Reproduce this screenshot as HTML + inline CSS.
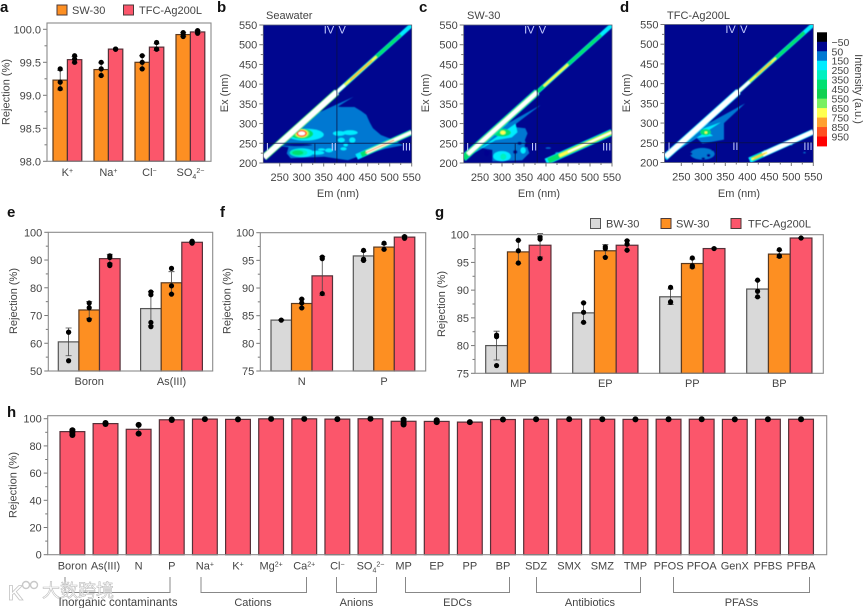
<!DOCTYPE html>
<html lang="en">
<head>
<meta charset="utf-8">
<title>Rejection performance and fluorescence spectra</title>
<style>
html,body{margin:0;padding:0;background:#fff;width:865px;height:608px;overflow:hidden}
svg{display:block;filter:blur(0.35px)}
text{font-family:"Liberation Sans","Noto Sans CJK SC",sans-serif;fill:#444;font-size:11px}
.pl{font-weight:bold;font-size:15px;fill:#111}
.hl{fill:#c4ccff;font-size:11px}
</style>
</head>
<body>
<svg id="figure" xmlns="http://www.w3.org/2000/svg" width="865" height="608" viewBox="0 0 865 608">
  <defs>
    <filter id="soft" x="-5%" y="-5%" width="110%" height="110%"><feGaussianBlur stdDeviation="0.55"/></filter>
  </defs>
  <rect width="865" height="608" fill="#fff"/>
  <text class="pl" x="0" y="12">a</text>
  <text class="pl" x="217" y="12">b</text>
  <text class="pl" x="419" y="12">c</text>
  <text class="pl" x="620" y="12">d</text>
  <text class="pl" x="7" y="217">e</text>
  <text class="pl" x="220" y="217">f</text>
  <text class="pl" x="435" y="217">g</text>
  <text class="pl" x="7" y="417">h</text>

  <g>
    <rect x="57" y="5" width="10" height="10" fill="#fd8f22" stroke="#4a3a3a" stroke-width="1"/>
    <text x="72" y="14">SW-30</text>
    <rect x="123.5" y="5" width="10" height="10" fill="#fb566b" stroke="#4a3a3a" stroke-width="1"/>
    <text x="139" y="14">TFC-Ag200L</text>
  </g>
  <g>
    <rect x="590.5" y="218.5" width="10" height="10" fill="#d9d9d9" stroke="#555" stroke-width="1"/>
    <text x="606" y="227.5">BW-30</text>
    <rect x="661" y="218.5" width="10" height="10" fill="#fd8f22" stroke="#4a3a3a" stroke-width="1"/>
    <text x="676" y="227.5">SW-30</text>
    <rect x="731" y="218.5" width="10" height="10" fill="#fb566b" stroke="#4a3a3a" stroke-width="1"/>
    <text x="748" y="227.5">TFC-Ag200L</text>
  </g>

  <text text-anchor="middle" transform="translate(9.5 92) rotate(-90)">Rejection (%)</text>
  <text text-anchor="middle" transform="translate(17 301) rotate(-90)">Rejection (%)</text>
  <text text-anchor="middle" transform="translate(230.5 301) rotate(-90)">Rejection (%)</text>
  <text text-anchor="middle" transform="translate(445 304) rotate(-90)">Rejection (%)</text>
  <text text-anchor="middle" transform="translate(16.5 485) rotate(-90)">Rejection (%)</text>

  <text x="266" y="19">Seawater</text>
  <text x="467" y="19">SW-30</text>
  <text x="667" y="19">TFC-Ag200L</text>
  <text x="338" y="197" text-anchor="middle">Em (nm)</text>
  <text x="539" y="197" text-anchor="middle">Em (nm)</text>
  <text x="739" y="197" text-anchor="middle">Em (nm)</text>
  <text text-anchor="middle" transform="translate(228 93) rotate(-90)">Ex (nm)</text>
  <text text-anchor="middle" transform="translate(429 93) rotate(-90)">Ex (nm)</text>
  <text text-anchor="middle" transform="translate(630 93) rotate(-90)">Ex (nm)</text>
  <text text-anchor="middle" transform="translate(855 89) rotate(90)">Intensity (a.u.)</text>

  <g id="dynamic"></g>

  <g fill="none" stroke="#888" stroke-width="1">
    <path d="M65 577V592.5H170V577"/>
    <path d="M201 577V592.5H306.5V577"/>
    <path d="M336.5 577V592.5H376.5V577"/>
    <path d="M405.5 577V592.5H509.5V577"/>
    <path d="M536.5 577V592.5H640.5V577"/>
    <path d="M673.5 577V592.5H809.5V577"/>
  </g>
  <g text-anchor="middle">
    <text x="118" y="606" style="font-size:11.5px">Inorganic contaminants</text>
    <text x="253" y="606">Cations</text>
    <text x="356.5" y="606">Anions</text>
    <text x="457.5" y="606">EDCs</text>
    <text x="590" y="606">Antibiotics</text>
    <text x="741.5" y="606">PFASs</text>
  </g>

  <g>
    <text x="8" y="600" style="font-size:21px;font-weight:bold;fill:#fff;stroke:#c4c4c4;stroke-width:.8">K</text>
    <circle cx="26" cy="585" r="3.5" fill="none" stroke="#c8c8c8" stroke-width="1.4"/>
    <circle cx="34" cy="585" r="3.5" fill="none" stroke="#c8c8c8" stroke-width="1.4"/>
    <text x="42" y="597" style="font-size:18px;fill:rgba(255,255,255,.72);stroke:#bdbdbd;stroke-width:.6">大数跨境</text>
  </g>
</svg>
<script>
/* ---------- bar chart data ---------- */
const aCategories = ['K<tspan dy="-3" font-size="7">+</tspan>','Na<tspan dy="-3" font-size="7">+</tspan>','Cl<tspan dy="-3" font-size="7">−</tspan>','SO<tspan dy="3" font-size="7">4</tspan><tspan dy="-6" font-size="7">2−</tspan>'];
const aTicks = [98,98.5,99,99.5,100];
const aTickLabels = ['98.0','98.5','99.0','99.5','100.0'];
const aSW = [99.23,99.39,99.5,99.92];
const aTFC = [99.54,99.7,99.73,99.96];
const aErrSW = [0.15,0.1,0.1,0.03];
const aErrTFC = [0.05,0,0.05,0.02];
const aPtsSW = [[99.4,99.2,99.1],[99.5,99.4,99.3],[99.6,99.5,99.4],[99.95,99.92,99.89]];
const aPtsTFC = [[99.6,99.55,99.5],[99.7,99.7,99.7],[99.8,99.7,99.7],[99.98,99.96,99.94]];

const eCategories = ['Boron','As(III)'];
const eTicks = [50,60,70,80,90,100];
const eBW = [60.5,72.5];
const eSW = [72,81.8];
const eTFC = [90.5,96.4];
const eErrBW = [5,6.2];
const eErrSW = [3,4];
const eErrTFC = [1.6,0.3];
const ePtsBW = [[64,64,53.7],[78.5,77.5,67.5,66]];
const ePtsSW = [[74.5,72.8,68.5],[87,80.7,77.7]];
const ePtsTFC = [[91.5,90.9,88.5,88],[96.8,96.3,96.1]];

const fCategories = ['N','P'];
const fTicks = [75,80,85,90,95,100];
const fBW = [84.2,95.8];
const fSW = [87.2,97.4];
const fTFC = [92.2,99.2];
const fErrBW = [0.1,0.8];
const fErrSW = [0.8,0.5];
const fErrTFC = [3.5,0.2];
const fPtsBW = [[84.2],[96.8,95.2,95]];
const fPtsSW = [[88,87.3,86.4],[98.1,97]];
const fPtsTFC = [[95.6,95.3,89],[99.3,99]];

const gCategories = ['MP','EP','PP','BP'];
const gTicks = [75,80,85,90,95,100];
const gBW = [80,85.9,88.8,90.2];
const gSW = [96.9,97.1,94.8,96.5];
const gTFC = [98.1,98.1,97.5,99.4];
const gErrBW = [2.6,1.8,1.4,1.5];
const gErrSW = [2.1,1.1,0.8,0.6];
const gErrTFC = [2.1,0.9,0.1,0.1];
const gPtsBW = [[81.9,81.6,76.4],[87.7,86,84.2],[90.5,87.9,87.8],[91.8,89.8,88.8]];
const gPtsSW = [[99,97.1,94.9],[97.8,97.5,95.9],[95.8,94.4,94.2],[97.3,96.2,96.1]];
const gPtsTFC = [[99.6,99.2,95.7],[98.9,98.3,97.2],[97.5],[99.4]];

const hCategories = ['Boron','As(III)','N','P','Na<tspan dy="-3" font-size="7">+</tspan>','K<tspan dy="-3" font-size="7">+</tspan>','Mg<tspan dy="-3" font-size="7">2+</tspan>','Ca<tspan dy="-3" font-size="7">2+</tspan>','Cl<tspan dy="-3" font-size="7">−</tspan>','SO<tspan dy="3" font-size="7">4</tspan><tspan dy="-6" font-size="7">2−</tspan>','MP','EP','PP','BP','SDZ','SMX','SMZ','TMP','PFOS','PFOA','GenX','PFBS','PFBA'];
const hTicks = [0,20,40,60,80,100];
const hTFC = [90.5,96.4,92.2,99.2,99.7,99.5,99.9,99.9,99.7,99.95,98.1,98,97.5,99.4,99.6,99.7,99.6,99.5,99.6,99.6,99.5,99.6,99.6];
const hErr = [1.7,0.3,3.4,0.2,0,0,0,0,0,0,2,1,0,0,0,0,0,0,0,0,0,0,0];
const hPts = [[91.5,90,88],[96.8,96.1],[95.5,89],[99.4,99],[99.7],[99.5],[99.9],[99.9],[99.7],[99.95],[99.3,97,95.7],[98.9,97.5],[97.5],[99.4],[99.6],[99.7],[99.6],[99.5],[99.6],[99.6],[99.5],[99.6],[99.6]];

/* ---------- fluorescence spectra data ---------- */
const emTicks = [250,300,350,400,450,500,550];
const exTicks = [200,250,300,350,400,450,500,550];
const colorbarLabels = ['−50','50','150','250','350','450','550','650','750','850','950'];
const levelColors = ['#000000','#00068f','#0078d2','#00ecff','#00f0c0','#00e070','#10d050','#78f060','#ffff50','#ffa030','#ff5020','#ff0000','#ffffff'];

/* [level, emStart, emEnd, widthNm] along Ex = Em */
const diagB = [[5,214,380,17],[12,214,380,13],[3,380,550,10],[5,380,525,8],[12,380,398,7],[8,398,470,5],[9,410,460,2.5]];
const diagC = [[3,212,380,17],[5,212,380,15],[12,222,380,10],[3,380,550,10],[5,380,525,8],[8,395,450,5]];
const diagD = [[3,212,380,16],[12,215,380,12],[3,380,550,10],[5,380,530,8],[12,380,405,7],[8,405,465,4.5],[9,420,455,2]];
/* [level, emStart, emEnd, widthNm] along Ex = Em / 2 + 3 */
const secondB = [[3,425,550,14],[5,435,550,12],[12,447,550,8],[9,445,510,2.5]];
const secondC = [[3,400,550,16],[5,405,550,13],[8,430,550,8],[12,450,550,4]];
const secondD = [[3,405,550,14],[5,410,450,10],[12,435,550,10],[8,410,445,5],[9,415,440,2]];

/* [level, [[em, ex], ...]] */
const polyB = [
  [2,[[418,368],[382,343],[390,342],[420,342],[435,332],[447,322],[455,302],[462,288],[480,271],[510,258],[530,245],[490,236],[427,216],[405,207],[351,216],[275,212],[266,224],[270,240],[250,243],[230,222],[282,288],[335,326]]]
];
const polyC = [
  [2,[[388,347],[323,292],[353,288],[358,275],[352,258],[362,225],[346,207],[278,204],[278,233],[240,241],[221,216],[293,288]]],
  [3,[[229,220],[331,300],[335,278],[322,265],[285,258]]]
];
const polyD = [
  [2,[[395,350],[347,300],[347,258],[298,248],[285,262],[225,218],[290,286]]],
  [3,[[228,222],[340,302],[298,285],[322,268],[285,262]]]
];
/* [level, em, ex, radiusEm, radiusEx] */
const spotsB = [
  [1,290,246,34,3.5],
  [3,300,226,27,11],[3,335,226,16,5],[4,293,226,20,9],[5,291,226,13,6],
  [3,385,275,14,6],[3,410,277,17,6],[3,390,258,8,6],[3,415,258,7,7],[3,400,246,5,4],[3,362,232,9,5],[3,395,236,7,4],[3,345,234,8,3],
  [3,308,272,42,15],[5,300,274,26,13],[7,300,275,17,11],[8,300,275,14,10],[9,300,275,12.5,9],[10,300,275,11.5,8],[12,300,275,8,5]
];
const spotsC = [
  [3,300,217,20,13],[4,303,216,7,8],[3,348,232,6,8],[2,405,238,6,2],[2,425,225,4,3],[1,340,250,5,4],[1,330,228,5,5],[1,265,225,6,8],[1,355,245,4,6],
  [5,300,277,20,10],[8,302,277,6,5]
];
const spotsD = [
  [2,298,222,28,15],[1,300,210,4,3],[1,272,222,3,3],[1,312,218,4,4],[1,322,232,4,3],
  [5,305,277,12,8],[8,306,276,3,3],[2,440,230,3,2],[2,470,236,3,2],[2,500,245,3,2],[2,530,225,3,2]
];

/* ---------- drawing helpers ---------- */
const NS = 'http://www.w3.org/2000/svg';
const root = document.getElementById('dynamic');
function mk(tag, attrs, parent) {
  const el = document.createElementNS(NS, tag);
  Object.keys(attrs).forEach(k => el.setAttribute(k, attrs[k]));
  (parent || root).appendChild(el);
  return el;
}
function linear(d0, d1, r0, r1) { return v => r0 + (v - d0) * (r1 - r0) / (d1 - d0); }

function yAxis(cfg, y) {
  const majors = cfg.ticks;
  const step = majors[1] - majors[0];
  majors.forEach((v, i) => {
    const t = mk('line', {x1: cfg.left - 4, x2: cfg.left, y1: y(v), y2: y(v), stroke: '#777', 'stroke-width': 1});
    
    
    const lab = mk('text', {x: cfg.left - 6, y: y(v) + 4, 'text-anchor': 'end'});
    lab.textContent = cfg.tickLabels ? cfg.tickLabels[i] : String(v);
    
    
    if (i < majors.length - 1) {
      const m = mk('line', {x1: cfg.left - 2.5, x2: cfg.left, y1: y(v + step / 2), y2: y(v + step / 2), stroke: '#777', 'stroke-width': 1});
      
      
    }
  });
}

function barChart(cfg) {
  const y = linear(cfg.d0, cfg.d1, cfg.bottom, cfg.y1);
  const x = (g, s) => cfg.x0 + g * cfg.groupStep + s * cfg.barW;
  yAxis(cfg, y);
  cfg.series.forEach((ser, s) => {
    ser.values.forEach((v, g) => {
      const bar = mk('rect', {x: x(g, s), y: y(v), width: cfg.barW, height: cfg.bottom - y(v), fill: ser.color, stroke: ser.edge, 'stroke-width': 1.2});
      
      
    });
  });
  cfg.series.forEach((ser, s) => {
    ser.values.forEach((v, g) => {
      const cx = x(g, s) + cfg.barW / 2;
      const e = ser.err[g];
      if (e > 0) {
        const eb = mk('path', {d: `M${cx} ${y(v - e)}V${y(v + e)}M${cx - 3} ${y(v - e)}h6M${cx - 3} ${y(v + e)}h6`, stroke: '#444', 'stroke-width': 0.8, fill: 'none'});
        
        
      }
      ser.points[g].forEach(p => {
        const dot = mk('circle', {cx: cx, cy: y(p), r: cfg.dot, fill: '#000'});
        
        
      });
    });
  });
  const frame = mk('rect', {x: cfg.left, y: cfg.top, width: cfg.right - cfg.left, height: cfg.bottom - cfg.top, fill: 'none', stroke: '#8a8a8a', 'stroke-width': 1.1});
  
  
  const nSer = cfg.series.length;
  cfg.categories.forEach((c, g) => {
    const lab = mk('text', {x: x(g, nSer / 2), y: cfg.labelY, 'text-anchor': 'middle'});
    lab.innerHTML = c;
    
    
  });
}

const ORANGE = ['#fd8f22', '#5a3a20'];
const PINK = ['#fb566b', '#553038'];
const GRAY = ['#d9d9d9', '#555555'];
function ser(name, c, values, err, points) { return {name, color: c[0], edge: c[1], values, err, points}; }

barChart({id:'panel-a', left:47, right:211, top:23, bottom:161.3, d0:98, d1:100, y1:29.3, x0:53, groupStep:41, barW:14.4, dot:2.6, labelY:176,
  ticks:aTicks, tickLabels:aTickLabels, categories:aCategories,
  series:[ser('sw30',ORANGE,aSW,aErrSW,aPtsSW), ser('tfc',PINK,aTFC,aErrTFC,aPtsTFC)]});
barChart({id:'panel-e', left:48.3, right:212.7, top:232.3, bottom:371, d0:50, d1:100, y1:232.3, x0:58.3, groupStep:82.3, barW:20.6, dot:2.6, labelY:385,
  ticks:eTicks, categories:eCategories,
  series:[ser('bw30',GRAY,eBW,eErrBW,ePtsBW), ser('sw30',ORANGE,eSW,eErrSW,ePtsSW), ser('tfc',PINK,eTFC,eErrTFC,ePtsTFC)]});
barChart({id:'panel-f', left:260.3, right:425.7, top:232.7, bottom:371, d0:75, d1:100, y1:232.7, x0:271, groupStep:82.3, barW:20.5, dot:2.6, labelY:385,
  ticks:fTicks, categories:fCategories,
  series:[ser('bw30',GRAY,fBW,fErrBW,fPtsBW), ser('sw30',ORANGE,fSW,fErrSW,fPtsSW), ser('tfc',PINK,fTFC,fErrTFC,fPtsTFC)]});
barChart({id:'panel-g', left:475, right:823.3, top:234.7, bottom:373.3, d0:75, d1:100, y1:234.7, x0:485.7, groupStep:87, barW:21.75, dot:2.6, labelY:387,
  ticks:gTicks, categories:gCategories,
  series:[ser('bw30',GRAY,gBW,gErrBW,gPtsBW), ser('sw30',ORANGE,gSW,gErrSW,gPtsSW), ser('tfc',PINK,gTFC,gErrTFC,gPtsTFC)]});

/* panel h: bars are spaced with a gap, so each category is its own group */
barChart({id:'panel-h', left:47.7, right:826.7, top:415.7, bottom:554.7, d0:0, d1:100, y1:418.7, x0:60, groupStep:33.12, barW:24.8, dot:3, labelY:569.5,
  ticks:hTicks, categories:hCategories,
  series:[ser('tfc',PINK,hTFC,hErr,hPts)]});

function heatmap(cfg) {
  const xEm = linear(550 - (cfg.right - cfg.left) / 0.44, 550, cfg.left, cfg.right);
  const yEx = linear(200, 550, cfg.bottom, cfg.top);
  const pxPerNm = 0.42;
  const clip = mk('clipPath', {id: 'clip-' + cfg.id});
  mk('rect', {x: cfg.left, y: cfg.top, width: cfg.right - cfg.left, height: cfg.bottom - cfg.top}, clip);
  const g = mk('g', {'clip-path': `url(#clip-${cfg.id})`});
  
  
  const bg = mk('rect', {x: cfg.left, y: cfg.top, width: cfg.right - cfg.left, height: cfg.bottom - cfg.top, fill: levelColors[1]}, g);
  
  
  const marks = mk('g', {filter: 'url(#soft)'}, g);
  
  
  cfg.polys.forEach(p => {
    const poly = mk('polygon', {points: p[1].map(q => xEm(q[0]) + ',' + yEx(q[1])).join(' '), fill: levelColors[p[0]]}, marks);
    
    
  });
  cfg.spots.forEach(s => {
    const sp = mk('ellipse', {cx: xEm(s[1]), cy: yEx(s[2]), rx: s[3] * 0.44, ry: s[4] * 0.394, fill: levelColors[s[0]]}, marks);
    
    
  });
  cfg.diag.forEach(b => {
    const ln = mk('line', {x1: xEm(b[1]), y1: yEx(b[1]), x2: xEm(b[2]), y2: yEx(b[2]), stroke: levelColors[b[0]], 'stroke-width': b[3] * pxPerNm}, marks);
    
    
  });
  cfg.second.forEach(b => {
    const ln = mk('line', {x1: xEm(b[1]), y1: yEx(b[1] / 2 + 3), x2: xEm(b[2]), y2: yEx(b[2] / 2 + 3), stroke: levelColors[b[0]], 'stroke-width': b[3] * pxPerNm}, marks);
    
    
  });
  const div = mk('path', {d: `M${cfg.left} ${yEx(250)}H${cfg.right}M${xEm(380)} ${cfg.top}V${cfg.bottom}M${xEm(330)} ${yEx(250)}V${cfg.bottom}`, stroke: '#0a1040', 'stroke-width': 1, fill: 'none', opacity: 0.75}, g);
  
  
  [['I',222,232],['II',373,232],['III',538,232],['IV',362,529],['V',392,529]].forEach(r => {
    const t = mk('text', {x: xEm(r[1]), y: yEx(r[2]), 'text-anchor': 'middle', class: 'hl'}, g);
    t.textContent = r[0];
    
    
  });
  const frame = mk('rect', {x: cfg.left, y: cfg.top, width: cfg.right - cfg.left, height: cfg.bottom - cfg.top, fill: 'none', stroke: '#5a6078', 'stroke-width': 0.8});
  
  
  exTicks.forEach((v, i) => {
    const t = mk('line', {x1: cfg.left - 4, x2: cfg.left, y1: yEx(v), y2: yEx(v), stroke: '#777', 'stroke-width': 1});
    
    
    const lab = mk('text', {x: cfg.left - 6, y: yEx(v) + 4, 'text-anchor': 'end'});
    lab.textContent = String(v);
    
    
    if (i < exTicks.length - 1) {
      const m = mk('line', {x1: cfg.left - 2.5, x2: cfg.left, y1: yEx(v + 25), y2: yEx(v + 25), stroke: '#777', 'stroke-width': 1});
      
      
    }
  });
  emTicks.forEach((v, i) => {
    const t = mk('line', {x1: xEm(v), x2: xEm(v), y1: cfg.bottom, y2: cfg.bottom + 3.5, stroke: '#777', 'stroke-width': 1});
    
    
    const lab = mk('text', {x: xEm(v), y: cfg.bottom + 18, 'text-anchor': 'middle'});
    lab.textContent = String(v);
    
    
    if (i < emTicks.length - 1) {
      const m = mk('line', {x1: xEm(v + 25), x2: xEm(v + 25), y1: cfg.bottom, y2: cfg.bottom + 2, stroke: '#777', 'stroke-width': 1});
      
      
    }
  });
}

heatmap({id:'panel-b', left:263.3, right:411.7, top:25, bottom:163, polys:polyB, spots:spotsB, diag:diagB, second:secondB});
heatmap({id:'panel-c', left:463.7, right:612, top:25, bottom:163, polys:polyC, spots:spotsC, diag:diagC, second:secondC});
heatmap({id:'panel-d', left:664.5, right:813.3, top:24.5, bottom:162.5, polys:polyD, spots:spotsD, diag:diagD, second:secondD});

/* colorbar */
const cbTop = 32.3, cbHeight = 113.7, cbSegments = 12;
for (let i = 0; i < cbSegments; i++) {
  const seg = mk('rect', {x: 817, y: cbTop + i * cbHeight / cbSegments, width: 10, height: cbHeight / cbSegments + 0.4, fill: levelColors[i]});
  
  
}
colorbarLabels.forEach((t, i) => {
  const lab = mk('text', {x: 831.5, y: cbTop + (i + 1) * cbHeight / cbSegments + 4, style: 'font-size:10.5px'});
  lab.textContent = t;
  
  
});
</script>
</body>
</html>
